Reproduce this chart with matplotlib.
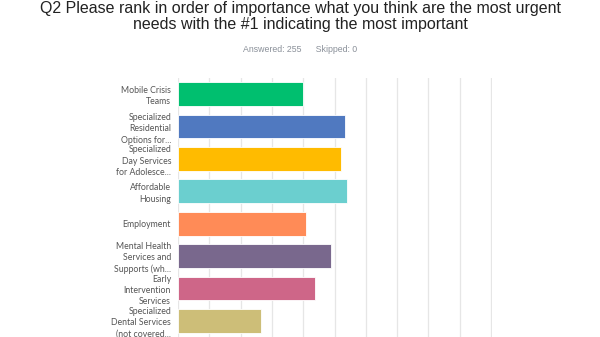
import numpy as np
import matplotlib.pyplot as plt

# answer choices, top to bottom
labels = [
    "Mobile Crisis\nTeams",
    "Specialized\nResidential\nOptions for...",
    "Specialized\nDay Services\nfor Adolesce...",
    "Affordable\nHousing",
    "Employment",
    "Mental Health\nServices and\nSupports (wh...",
    "Early\nIntervention\nServices",
    "Specialized\nDental Services\n(not covered...",
]
scores = [3.98, 5.32, 5.21, 5.41, 4.10, 4.88, 4.38, 2.66]
colors = ["#00BF6F", "#5079C0", "#FFBB00", "#6BCFCF",
          "#FF8B57", "#79688D", "#CE6688", "#CDBE78"]
grid_ticks = list(range(0, 11))

fig = plt.figure(figsize=(6, 3.37), dpi=100)

fig.text(0.5, 0.997, "Q2 Please rank in order of importance what you think are the most urgent\n"
         "needs with the #1 indicating the most important",
         ha="center", va="top", fontsize=11.5, family="Liberation Sans",
         color="#222222", linespacing=1.1)
fig.text(0.5, 0.853, "Answered: 255      Skipped: 0", ha="center", va="center",
         fontsize=6.3, family="Liberation Sans", color="#8a9099")

ax = fig.add_axes([178 / 600, 0.0, 314 / 600, 1 - 78 / 337])
y = np.arange(len(labels))
ax.barh(y, scores, height=0.73, color=colors, edgecolor="white",
        linewidth=0.6, zorder=3)
ax.set_ylim(len(labels) - 0.5, -0.5)
ax.set_xlim(0, 10.03)
ax.set_xticks(grid_ticks)
ax.xaxis.grid(True, color="#e6e6e6", linewidth=0.9, zorder=0)
ax.tick_params(axis="x", length=0, labelbottom=False)
ax.tick_params(axis="y", length=0, pad=5)
ax.set_yticks(y)
ax.set_yticklabels(labels, fontsize=6.3, color="#555555", linespacing=1.33,
                   family="Lato")
for s in ax.spines.values():
    s.set_visible(False)

fig.savefig("out.png", dpi=100)
